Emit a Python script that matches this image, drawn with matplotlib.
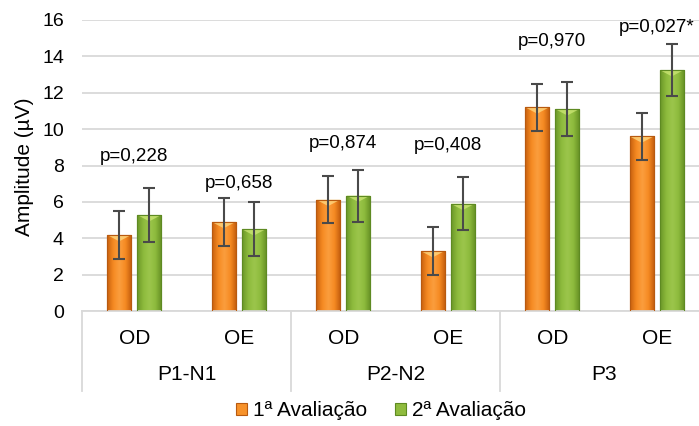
import numpy as np
import matplotlib
matplotlib.use("Agg")
import matplotlib.pyplot as plt
from matplotlib.colors import LinearSegmentedColormap
import matplotlib.transforms as mtransforms

plt.rcParams['font.family'] = ['Liberation Sans', 'DejaVu Sans']

groups = ["P1-N1", "P2-N2", "P3"]
sides = ["OD", "OE", "OD", "OE", "OD", "OE"]
series_names = ["1ª Avaliação", "2ª Avaliação"]
aval1 = [4.18, 4.9, 6.12, 3.3, 11.2, 9.6]
aval1_sd = [1.3, 1.3, 1.3, 1.3, 1.3, 1.3]
aval2 = [5.28, 4.5, 6.35, 5.9, 11.1, 13.25]
aval2_sd = [1.47, 1.47, 1.43, 1.45, 1.47, 1.45]
p_labels = ["p=0,228", "p=0,658", "p=0,874", "p=0,408", "p=0,970", "p=0,027*"]
p_label_y = [8.5, 7.0, 9.2, 9.1, 14.8, 15.6]

W, H = 699, 426
fig = plt.figure(figsize=(W / 100, H / 100), dpi=100)
ax = fig.add_axes([82 / W, (H - 311) / H, (709 - 82) / W, (311 - 20) / H])

x = np.arange(len(sides))
bw = 0.23
gap = 0.058
off = bw / 2 + gap / 2

cm_orange = LinearSegmentedColormap.from_list("o", ["#C8600E", "#F58A22", "#FB9E3E", "#F58A22", "#C05A0C"])
cm_green = LinearSegmentedColormap.from_list("g", ["#6A9628", "#8DBA3C", "#9CC64C", "#8DBA3C", "#648E24"])

bars1 = ax.bar(x - off, aval1, bw, color="#F7922A", edgecolor="#B85A10", linewidth=0.8, zorder=2,
               label=series_names[0])
bars2 = ax.bar(x + off, aval2, bw, color="#8FBB3E", edgecolor="#5E8A22", linewidth=0.8, zorder=2,
               label=series_names[1])

grad = np.linspace(0, 1, 64).reshape(1, -1)
for bars, cmap in ((bars1, cm_orange), (bars2, cm_green)):
    for b in bars:
        x0, y0 = b.get_x(), b.get_y()
        w, h = b.get_width(), b.get_height()
        im = ax.imshow(grad, cmap=cmap, extent=[x0, x0 + w, y0, y0 + h], aspect="auto", zorder=2.5,
                       interpolation="bicubic")
        im.set_clip_path(b)
        ax.fill([x0, x0 + w, x0 + w / 2], [y0 + h, y0 + h, y0 + h - 0.35],
                color="#FFE08A" if cmap is cm_orange else "#D2EA7A", alpha=0.7, zorder=2.6, lw=0)
        ax.add_patch(plt.Rectangle((x0, y0), w, h, fill=False, edgecolor=b.get_edgecolor(),
                                   linewidth=0.8, zorder=2.7))

ax.errorbar(x - off, aval1, yerr=aval1_sd, fmt="none", ecolor="#4A4A4A", elinewidth=1.5,
            capsize=4, capthick=1.5, zorder=3)
ax.errorbar(x + off, aval2, yerr=aval2_sd, fmt="none", ecolor="#4A4A4A", elinewidth=1.5,
            capsize=4, capthick=1.5, zorder=3)

for xi, t, yy in zip(x, p_labels, p_label_y):
    ax.text(xi, yy, t, ha="center", va="center", fontsize=13.5, color="#000000", zorder=4)

ax.set_xlim(-0.5, len(sides) - 0.5)
ax.set_ylim(0, 16)
ax.set_yticks(np.arange(0, 17, 2))
ax.yaxis.grid(True, color="#D9D9D9", linewidth=1.3, zorder=0)
ax.set_axisbelow(True)
for s in ["top", "right", "left"]:
    ax.spines[s].set_visible(False)
ax.spines["bottom"].set_color("#D9D9D9")
ax.spines["bottom"].set_linewidth(1.3)
ax.tick_params(axis="y", length=0, labelsize=14, pad=13, labelcolor="#000000")
ax.set_xticks(x)
ax.set_xticklabels(sides, fontsize=15)
ax.tick_params(axis="x", length=0, pad=13)
fig.text(25 / W, (H - 167) / H, "Amplitude (µV)", rotation=90, ha="center", va="center", fontsize=15)

trans = mtransforms.blended_transform_factory(ax.transData, ax.transAxes)
for gi, g in enumerate(groups):
    ax.text(gi * 2 + 0.5, -64 / 291, g, transform=trans, ha="center", va="center", fontsize=15)
for xb in [-0.5, 1.5, 3.5, 5.5]:
    ax.plot([xb, xb], [0, -80 / 291], transform=trans, color="#D9D9D9", lw=1.3, clip_on=False)

leg = fig.legend(handles=[bars1, bars2], labels=series_names, loc="center",
                 bbox_to_anchor=(381 / W, (H - 411) / H), ncol=2, frameon=False, fontsize=15,
                 handlelength=0.55, handleheight=0.55, handletextpad=0.3, columnspacing=1.3)

fig.savefig("out.png", dpi=100)
